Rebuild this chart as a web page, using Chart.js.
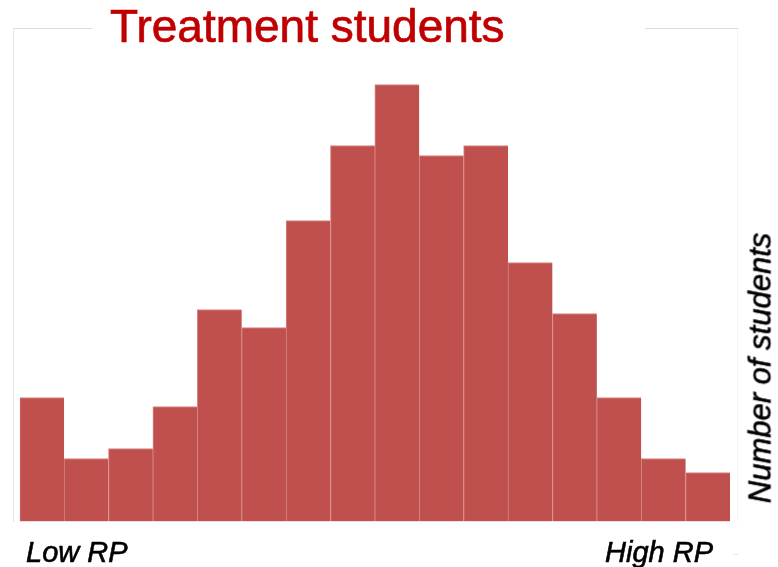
<!DOCTYPE html>
<html>
<head>
<meta charset="utf-8">
<title>Treatment students</title>
<script src="https://cdn.jsdelivr.net/npm/chart.js@4/dist/chart.umd.min.js"></script>
<style>
  html, body { margin: 0; padding: 0; background: #ffffff; }
  #wrap { position: relative; width: 778px; height: 567px; overflow: hidden; font-family: "Liberation Sans", Arial, sans-serif; }
  #chart { position: absolute; left: 0; top: 0; }
  .frame { position: absolute; }
  .txt { position: absolute; white-space: nowrap; margin: 0; }
  #title { left: 110px; top: 3px; font-size: 46px; line-height: 46px; color: #C00000;
           -webkit-text-stroke: 0.7px #C00000; }
  .end { top: 538px; font-size: 29px; line-height: 29px; font-style: italic; color: #000;
         -webkit-text-stroke: 0.6px #000; }
  #lowLbl { left: 26px; }
  #highLbl { left: 605px; }
  #yTitle { left: 760px; top: 368px; font-size: 31px; line-height: 31px; font-style: italic; color: #000;
            -webkit-text-stroke: 0.6px #000;
            transform: translate(-50%, -50%) rotate(-90deg); }
</style>
</head>
<body>
<div id="wrap">
  <!-- light frame around the plot, with a gap behind the heading -->
  <div class="frame" style="left:13px; top:28px; width:79px; height:1px; background:#dcdcdc;"></div>
  <div class="frame" style="left:645px; top:28px; width:93px; height:1px; background:#dcdcdc;"></div>
  <div class="frame" style="left:13px; top:28px; width:1px; height:494px; background:#e6e6e6;"></div>
  <div class="frame" style="left:737px; top:29px; width:1px; height:493px; background:#f6f6f6;"></div>
  <div class="frame" style="left:733px; top:554px; width:5px; height:1px; background:#e8e8e8;"></div>

  <canvas id="chart" width="778" height="567"></canvas>

  <div class="txt" id="title"></div>
  <div class="txt end" id="lowLbl"></div>
  <div class="txt end" id="highLbl"></div>
  <div class="txt" id="yTitle"></div>
</div>
<script>
// Histogram bins, ordered from low to high RP
const binLabels = ["1", "2", "3", "4", "5", "6", "7", "8", "9", "10", "11", "12", "13", "14", "15", "16"];
// Number of students in each bin
const studentCounts = [12.4, 6.3, 7.3, 11.5, 21.2, 19.4, 30.1, 37.6, 43.7, 36.6, 37.6, 25.9, 20.8, 12.4, 6.3, 4.9];
// Text
const chartTitle = "Treatment students";
const lowEndLabel = "Low RP";
const highEndLabel = "High RP";
const countAxisTitle = "Number of students";
const countAxisMax = 49.35;

document.getElementById("title").textContent = chartTitle;
document.getElementById("lowLbl").textContent = lowEndLabel;
document.getElementById("highLbl").textContent = highEndLabel;
document.getElementById("yTitle").textContent = countAxisTitle;

new Chart(document.getElementById("chart"), {
  type: "bar",
  data: {
    labels: binLabels,
    datasets: [{
      label: countAxisTitle,
      data: studentCounts,
      backgroundColor: "#C0504D",
      borderColor: "#D58884",
      borderWidth: { top: 1, left: 1, right: 0, bottom: 0 },
      borderSkipped: false,
      barPercentage: 1.0,
      categoryPercentage: 1.0
    }]
  },
  options: {
    responsive: false,
    animation: false,
    devicePixelRatio: 1,
    layout: { padding: { left: 19.7, right: 48, top: 28, bottom: 45.5 } },
    plugins: {
      legend: { display: false },
      title: { display: false },
      tooltip: { enabled: false }
    },
    scales: {
      x: { display: false, offset: true },
      y: { display: false, min: 0, max: countAxisMax }
    }
  }
});
</script>
</body>
</html>
